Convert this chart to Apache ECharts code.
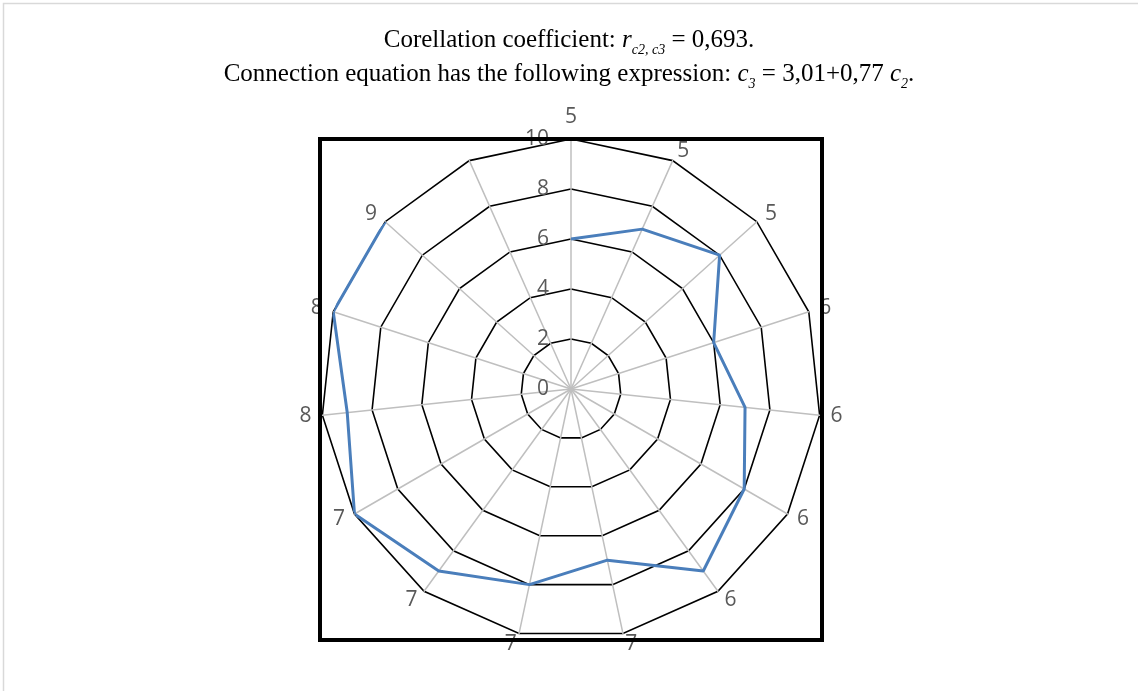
<!DOCTYPE html>
<html>
<head>
<meta charset="utf-8">
<script src="https://cdn.jsdelivr.net/npm/echarts@6/dist/echarts.min.js"></script>
<style>
html,body{margin:0;padding:0;background:#fff;}
#chart{width:1138px;height:691px;}
</style>
</head>
<body>
<div id="chart"></div>
<script>
// Category labels (clockwise from top); last spoke has no label / value
const categories = ['5','5','5','6','6','6','6','7','7','7','7','8','8','9',''];
// Series values (clockwise from top); last category has no value
const seriesValues = [6,7,8,6,7,8,9,7,8,9,10,9,10,10];
// Radial tick labels
const radiusTicks = [0,2,4,6,8,10];
const radiusMax = 10;

const CX = 571, CY = 389, R = 250;
const n = categories.length;
// radar places indicators counter-clockwise: map to clockwise order
const indicators = categories.map((_, k) => ({ name: categories[(n - k) % n], min: 0, max: radiusMax }));

const chart = echarts.init(document.getElementById('chart'));
const serif = '"Liberation Serif", "DejaVu Serif", serif';
const sans = '"Open Sans", sans-serif';
chart.setOption({
  backgroundColor: '#fff',
  animation: false,
  title: {
    left: 'center',
    top: 18,
    text: '{n|Corellation coefficient: }{i|r}{s|c2, c3}{n| = 0,693.}\n{n|Connection equation has the following expression: }{i|c}{s|3}{n| = 3,01+0,77 }{i|c}{s|2}{n|.}',
    textStyle: {
      fontWeight: 'normal',
      rich: {
        n: { fontFamily: serif, fontSize: 25, fontWeight: 'normal', color: '#000', lineHeight: 34 },
        i: { fontFamily: serif, fontSize: 25, fontWeight: 'normal', fontStyle: 'italic', color: '#000', lineHeight: 34 },
        s: { fontFamily: serif, fontSize: 14, fontWeight: 'normal', fontStyle: 'italic', color: '#000', lineHeight: 18, verticalAlign: 'bottom' }
      }
    }
  },
  radar: {
    center: [CX, CY],
    radius: R,
    startAngle: 90,
    shape: 'polygon',
    splitNumber: 5,
    indicator: indicators,
    axisName: { color: '#595959', fontSize: 21, fontFamily: sans },
    nameGap: 11,
    axisLine: { lineStyle: { color: '#bfbfbf', width: 1.5 } },
    splitLine: { lineStyle: { color: '#000', width: 1.6 } },
    splitArea: { show: false },
    axisLabel: { show: false }
  },
  polar: { center: [CX, CY], radius: R },
  angleAxis: {
    type: 'category',
    data: categories,
    startAngle: 90,
    clockwise: true,
    boundaryGap: false,
    axisLine: { show: false },
    axisTick: { show: false },
    axisLabel: { show: false },
    splitLine: { show: false }
  },
  radiusAxis: {
    type: 'value',
    min: 0,
    max: radiusMax,
    interval: 2,
    axisLine: { show: false },
    axisTick: { show: false },
    splitLine: { show: false },
    axisLabel: {
      color: '#595959', fontSize: 21, fontFamily: sans, margin: 22,
      formatter: v => radiusTicks.indexOf(v) >= 0 ? String(v) : ''
    }
  },
  series: [{
    type: 'line',
    coordinateSystem: 'polar',
    data: seriesValues,
    showSymbol: false,
    symbol: 'none',
    lineStyle: { color: '#4a7ebb', width: 3 },
    z: 5
  }],
  graphic: [
    { type: 'rect', shape: { x: 320, y: 139, width: 502, height: 501 }, style: { fill: 'none', stroke: '#000', lineWidth: 4 }, z: 10 },
    { type: 'rect', shape: { x: 3.5, y: 3.5, width: 1300, height: 900 }, style: { fill: 'none', stroke: '#d9d9d9', lineWidth: 1.5 }, z: 10 }
  ]
});
</script>
</body>
</html>
